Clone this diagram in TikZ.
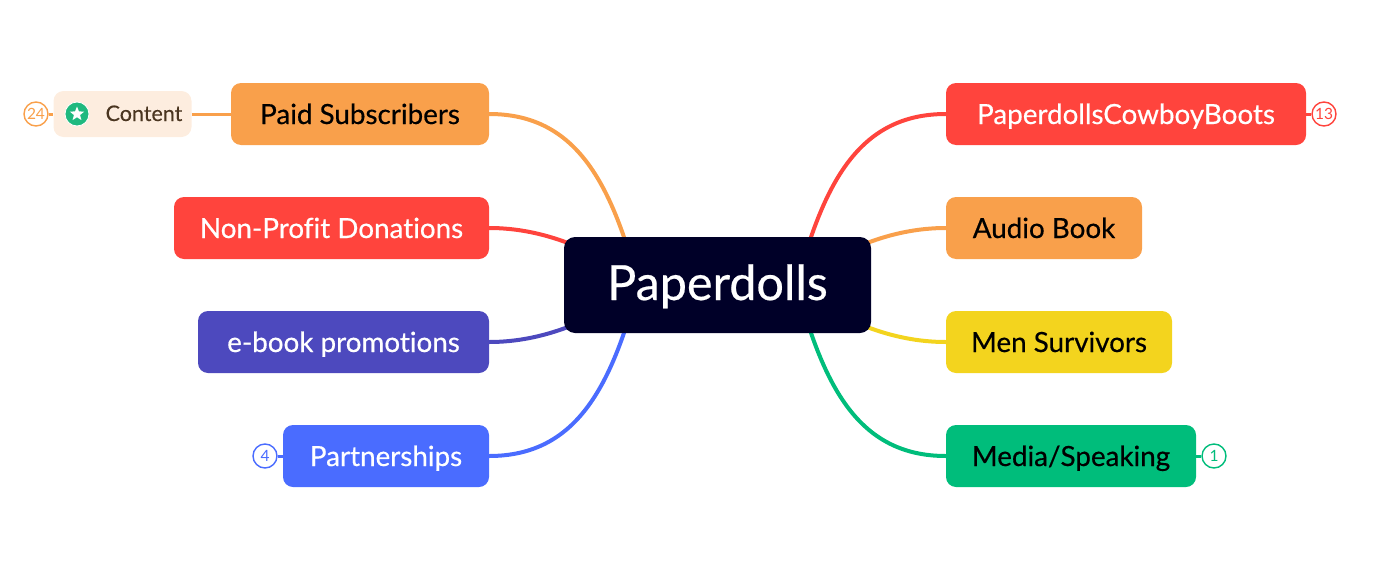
\documentclass[tikz,border=0pt]{standalone}
\usepackage{fontspec}
\setmainfont{Lato}
\newfontfamily\medfont{Lato}[FakeBold=0.45,Ligatures=NoCommon]
\newfontfamily\lightmed{Lato}[FakeBold=0.2]
\usetikzlibrary{shapes.geometric,backgrounds}
\definecolor{corange}{HTML}{F9A04B}
\definecolor{cred}{HTML}{FF443D}
\definecolor{cindigo}{HTML}{4D49BE}
\definecolor{cblue}{HTML}{4A6CFF}
\definecolor{cyellow}{HTML}{F3D41E}
\definecolor{cgreen}{HTML}{00BD7B}
\definecolor{cnavy}{HTML}{000028}
\definecolor{cpeach}{HTML}{FDEDDF}
\definecolor{cbrown}{HTML}{4A3520}
\definecolor{cstar}{HTML}{1FB97F}
\tikzset{
  branch/.style={rounded corners=10pt,inner sep=0pt,minimum height=62pt,text height=24pt,text depth=4pt,font=\medfont\fontsize{27.8}{30}\selectfont},
  badge/.style={circle,draw=#1,line width=1.4pt,fill=white,minimum size=24pt,inner sep=0pt,text=#1,font=\fontsize{15.5}{16}\selectfont},
  link/.style={draw=#1,line width=4pt},
  stub/.style={draw=#1,line width=3pt}
}
\begin{document}
\begin{tikzpicture}[x=1pt,y=-1pt]
\useasboundingbox (0,0) rectangle (1374,565);
\node[rounded corners=11pt,fill=cnavy,text=white,minimum width=307pt,minimum height=96pt,inner sep=0pt,text height=40pt,text depth=10pt,font=\medfont\fontsize{48.5}{50}\selectfont] (root) at (717.5,285) {Paperdolls};
\node[branch,fill=corange,text=black,minimum width=258pt] (paid) at (360,114) {Paid Subscribers};
\node[branch,fill=cred,text=white,minimum width=315pt] (nonprofit) at (331.5,228) {Non-Profit Donations};
\node[branch,fill=cindigo,text=white,minimum width=291pt] (ebook) at (343.5,342) {e-book promotions};
\node[branch,fill=cblue,text=white,minimum width=206pt] (partner) at (386,456) {Partnerships};
\node[branch,fill=cred,text=white,minimum width=360pt] (boots) at (1126,114) {PaperdollsCowboyBoots};
\node[branch,fill=corange,text=black,minimum width=196pt] (audio) at (1044,228) {Audio Book};
\node[branch,fill=cyellow,text=black,minimum width=226pt] (men) at (1059,342) {Men Survivors};
\node[branch,fill=cgreen,text=black,minimum width=250pt] (media) at (1071,456) {Media/Speaking};
\node[rounded corners=10pt,fill=cpeach,minimum width=138pt,minimum height=46pt,inner sep=0pt] (content) at (122.5,114) {};
\node[text=cbrown,inner sep=0pt,text height=16pt,text depth=2pt,font=\lightmed\fontsize{21.5}{24}\selectfont] (contentlabel) at (144,114) {Content};
\node[circle,fill=cstar,draw=white,line width=0.8pt,minimum size=24pt,inner sep=0pt] (icon) at (77,114) {};
\node[star,star points=5,star point ratio=2.3,fill=white,minimum size=15pt,inner sep=0pt] (iconstar) at (77,114) {};
\node[badge=corange] (b24) at (36,114) {24};
\node[badge=cblue] (b4) at (265,456) {4};
\node[badge=cred] (b13) at (1324,114) {13};
\node[badge=cgreen] (b1) at (1214,456) {1};
\coordinate (hubOL) at ([xshift=-79pt]root.center);
\coordinate (hubOR) at ([xshift=79pt]root.center);
\coordinate (hubIL) at ([xshift=-72.5pt]root.center);
\coordinate (hubIR) at ([xshift=72.5pt]root.center);
\begin{scope}[on background layer]
\path[link=corange] (paid.east) .. controls +(88,0) and +(-27,-100) .. (hubOL);
\path[link=cred] (nonprofit.east) .. controls +(55,0) and +(-50,-35) .. (hubIL);
\path[link=cindigo] (ebook.east) .. controls +(55,0) and +(-50,35) .. (hubIL);
\path[link=cblue] (partner.east) .. controls +(88,0) and +(-27,100) .. (hubOL);
\path[link=cred] (boots.west) .. controls +(-88,0) and +(27,-100) .. (hubOR);
\path[link=corange] (audio.west) .. controls +(-55,0) and +(50,-35) .. (hubIR);
\path[link=cyellow] (men.west) .. controls +(-55,0) and +(50,35) .. (hubIR);
\path[link=cgreen] (media.west) .. controls +(-88,0) and +(27,100) .. (hubOR);
\path[stub=corange] (content.east) -- (paid.west);
\path[stub=corange] (b24.east) -- (content.west);
\path[stub=cblue] (b4.east) -- (partner.west);
\path[stub=cred] (boots.east) -- (b13.west);
\path[stub=cgreen] (media.east) -- (b1.west);
\end{scope}
\end{tikzpicture}
\end{document}
